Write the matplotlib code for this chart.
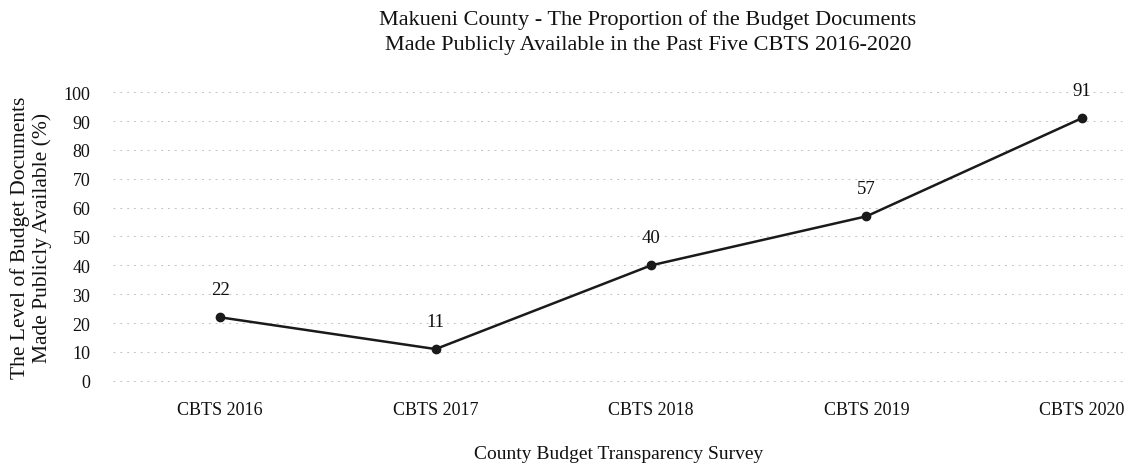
import matplotlib.pyplot as plt

# data
surveys = ["CBTS 2016", "CBTS 2017", "CBTS 2018", "CBTS 2019", "CBTS 2020"]
published = [22, 11, 40, 57, 91]
y_ticks = [0, 10, 20, 30, 40, 50, 60, 70, 80, 90, 100]

plt.rcParams["font.family"] = ["Liberation Serif", "DejaVu Serif"]

fig = plt.figure(figsize=(11.25, 4.64), dpi=100)
ax = fig.add_axes([0.1, 0.1746, 0.9, 0.6271])

x = list(range(len(surveys)))
ax.plot(x, published, color="#1a1a1a", linewidth=1.8, marker="o", markersize=6, zorder=3)

# labels above each point
for i, v in zip(x, published):
    ax.annotate(str(v), (i, v), textcoords="offset points", xytext=(0, 14),
                ha="center", va="bottom", fontsize=13.5, color="#111111")

ax.set_xlim(-0.5, 4.2)
ax.set_ylim(-0.4, 100.4)
ax.set_yticks(y_ticks)
ax.set_xticks(x)
ax.set_xticklabels(surveys)
ax.tick_params(axis="both", length=0, labelsize=13, colors="#111111")
ax.tick_params(axis="y", pad=16)
ax.tick_params(axis="x", pad=14)

ax.grid(axis="y", linestyle=(0, (2, 5)), color="#c4c4c4", linewidth=0.7)
for s in ax.spines.values():
    s.set_visible(False)

ax.set_ylabel("The Level of Budget Documents\nMade Publicly Available (%)", fontsize=15.5, labelpad=8,
              color="#111111", linespacing=1.15)
ax.set_xlabel("County Budget Transparency Survey", fontsize=14, labelpad=19, color="#111111")

fig.text(0.576, 0.978, "Makueni County - The Proportion of the Budget Documents\n"
         "Made Publicly Available in the Past Five CBTS 2016-2020",
         ha="center", va="top", fontsize=16, color="#111111", linespacing=1.4)

fig.savefig("out.png", dpi=100)
